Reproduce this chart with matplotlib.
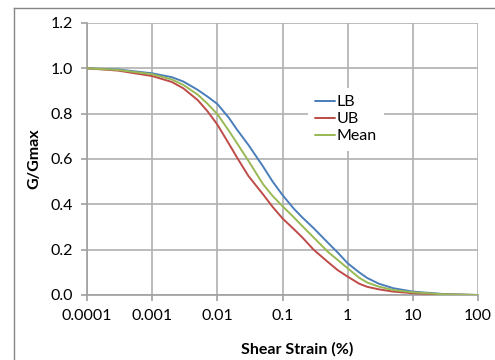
import matplotlib
matplotlib.use("Agg")
import matplotlib.pyplot as plt
from matplotlib.lines import Line2D
from matplotlib.ticker import FixedLocator, FixedFormatter, NullLocator

plt.rcParams['font.family'] = ['Lato', 'DejaVu Sans']

strain = [0.0001, 0.0003, 0.001, 0.002, 0.003, 0.005, 0.007, 0.01, 0.015, 0.02,
          0.03, 0.05, 0.07, 0.1, 0.15, 0.2, 0.3, 0.5, 0.7, 1, 1.5, 2, 3, 5, 10, 30, 100]
lb = [1.0, 0.995, 0.978, 0.961, 0.942, 0.905, 0.876, 0.843, 0.782, 0.730,
      0.662, 0.568, 0.502, 0.441, 0.380, 0.343, 0.295, 0.230, 0.188, 0.140, 0.100, 0.075, 0.050, 0.030, 0.015, 0.004, 0.0]
mean = [1.0, 0.993, 0.974, 0.951, 0.927, 0.884, 0.845, 0.798, 0.725, 0.670,
        0.592, 0.490, 0.438, 0.392, 0.342, 0.305, 0.254, 0.190, 0.155, 0.118, 0.076, 0.055, 0.037, 0.022, 0.012, 0.003, 0.0]
ub = [1.0, 0.990, 0.966, 0.940, 0.912, 0.860, 0.812, 0.752, 0.668, 0.607,
      0.525, 0.445, 0.390, 0.338, 0.290, 0.255, 0.200, 0.145, 0.110, 0.081, 0.050, 0.036, 0.025, 0.015, 0.008, 0.002, 0.0]

series_names = ["LB", "UB", "Mean"]
colors = ["#4a7ebb", "#be4b48", "#98b954"]

xticks = [0.0001, 0.001, 0.01, 0.1, 1, 10, 100]
xtick_labels = ["0.0001", "0.001", "0.01", "0.1", "1", "10", "100"]
yticks = [0.0, 0.2, 0.4, 0.6, 0.8, 1.0, 1.2]
ytick_labels = ["0.0", "0.2", "0.4", "0.6", "0.8", "1.0", "1.2"]

W, H = 495, 360
fig = plt.figure(figsize=(W / 100, H / 100), dpi=100)
ax = fig.add_axes([87 / W, (H - 295) / H, (478 - 87) / W, (295 - 23) / H])

grid_c = "#b0b0b0"
for name, ys, c in zip(series_names, [lb, ub, mean], colors):
    ax.plot(strain, ys, color=c, lw=1.4, label=name, zorder=3, solid_capstyle='round')

ax.set_xscale('log')
ax.set_xlim(1e-4, 100)
ax.set_ylim(0, 1.2)
ax.xaxis.set_major_locator(FixedLocator(xticks))
ax.xaxis.set_major_formatter(FixedFormatter(xtick_labels))
ax.xaxis.set_minor_locator(NullLocator())
ax.set_yticks(yticks)
ax.set_yticklabels(ytick_labels)

ax.grid(True, color=grid_c, lw=1.2, zorder=0)
ax.set_axisbelow(True)
for s in ['top', 'right']:
    ax.spines[s].set_visible(False)
for s in ['left', 'bottom']:
    ax.spines[s].set_color("#a0a0a0")
    ax.spines[s].set_linewidth(1.2)
ax.tick_params(axis='both', which='major', direction='out', length=4, width=1.2,
               color="#a0a0a0", labelsize=11.5, labelcolor="#000000", pad=6)

ax.set_ylabel("G/Gmax", fontsize=11.5, fontweight='bold', labelpad=7)
fig.text(297.5 / W, (H - 349) / H, "Shear Strain (%)", fontsize=11.5, fontweight='bold',
         ha='center', va='center')

leg = ax.legend(loc='upper left', bbox_to_anchor=((308 - 87) / 391, (295 - 88) / 272),
                borderaxespad=0, frameon=True, fancybox=False, fontsize=11.5,
                handlelength=1.25, handletextpad=0.1, labelspacing=0.18, borderpad=0.45)
leg.get_frame().set_facecolor('white')
leg.get_frame().set_edgecolor('none')
leg.get_frame().set_alpha(1)

# chart-area border
fig.add_artist(Line2D([14 / W, 1.0], [(H - 8) / H, (H - 8) / H], transform=fig.transFigure,
                      color="#868686", lw=1.0))
fig.add_artist(Line2D([14 / W, 14 / W], [0, (H - 8) / H], transform=fig.transFigure,
                      color="#868686", lw=1.0))

fig.savefig("out.png", dpi=100)
